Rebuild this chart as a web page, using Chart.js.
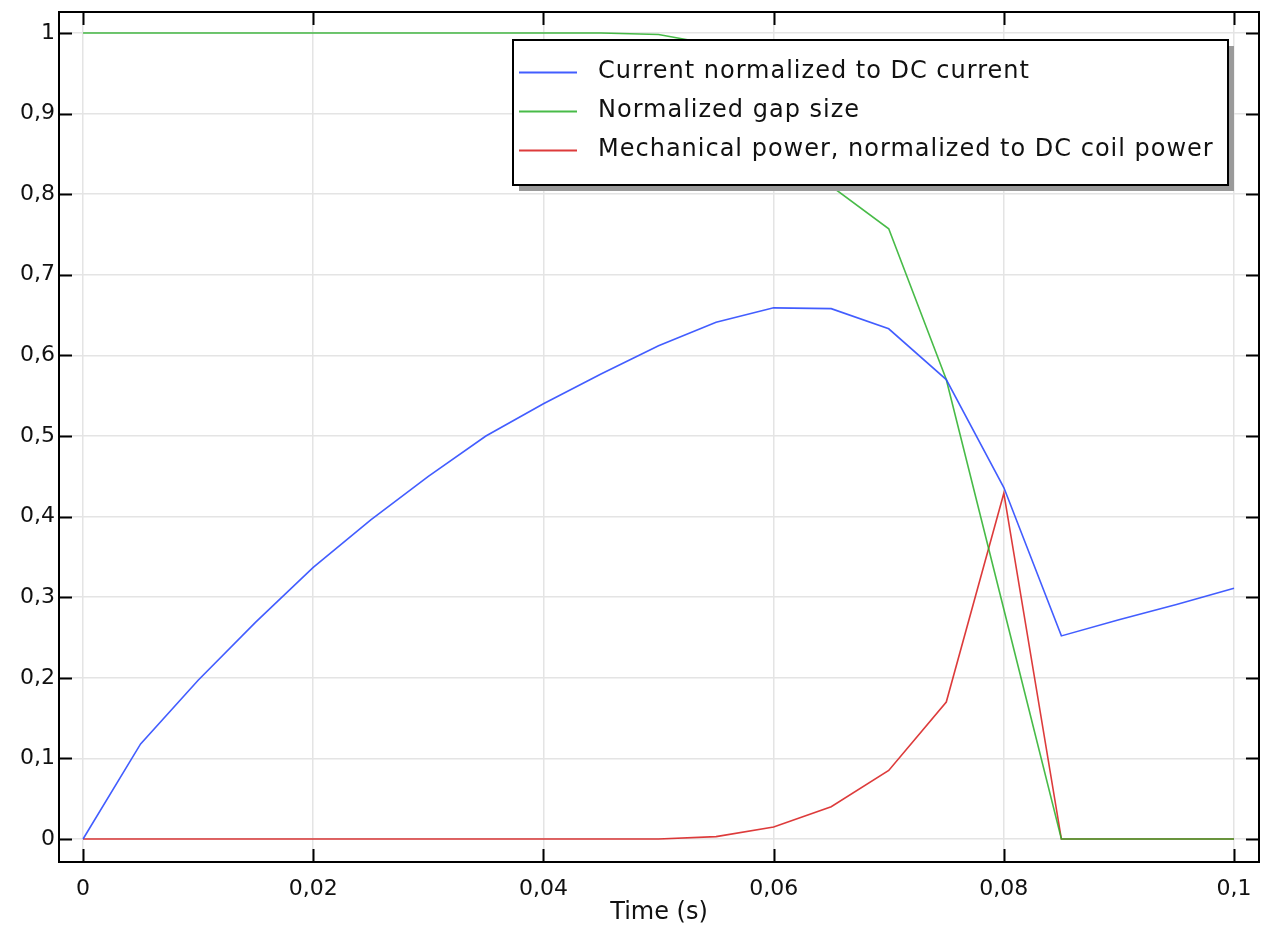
<!DOCTYPE html>
<html>
<head>
<meta charset="utf-8">
<title>Normalized current, gap size and mechanical power</title>
<script src="https://cdn.jsdelivr.net/npm/chart.js@4.4.1/dist/chart.umd.min.js"></script>
<style>
  html, body { margin: 0; padding: 0; background: #ffffff; }
  #wrap { width: 1275px; height: 932px; }
</style>
</head>
<body>
<div id="wrap"><canvas id="chart" width="1275" height="932"></canvas></div>
<script>
// Valeurs (pas de 0,005 s)
const timeValues = [0, 0.005, 0.01, 0.015, 0.02, 0.025, 0.03, 0.035, 0.04, 0.045, 0.05,
                    0.055, 0.06, 0.065, 0.07, 0.075, 0.08, 0.085, 0.09, 0.095, 0.1];
const currentValues = [0, 0.118, 0.197, 0.269, 0.337, 0.396, 0.450, 0.500, 0.540, 0.577, 0.612,
                       0.641, 0.659, 0.658, 0.633, 0.570, 0.436, 0.252, 0.272, 0.291, 0.311];
const gapValues = [1, 1, 1, 1, 1, 1, 1, 1, 1, 1, 0.998,
                   0.985, 0.93, 0.81, 0.757, 0.57, 0.285, 0, 0, 0, 0];
const powerValues = [0, 0, 0, 0, 0, 0, 0, 0, 0, 0, 0,
                     0.003, 0.015, 0.040, 0.085, 0.170, 0.429, 0, 0, 0, 0];

const seriesLabels = ['Current normalized to DC current', 'Normalized gap size',
                      'Mechanical power, normalized to DC coil power'];
const seriesColors = ['rgba(45, 75, 255, 0.9)', 'rgba(40, 175, 40, 0.85)', 'rgba(215, 25, 25, 0.85)'];

const xTicks = [0, 0.02, 0.04, 0.06, 0.08, 0.1];
const xTickLabels = ['0', '0,02', '0,04', '0,06', '0,08', '0,1'];
const yTicks = [0, 0.1, 0.2, 0.3, 0.4, 0.5, 0.6, 0.7, 0.8, 0.9, 1];
const yTickLabels = ['0', '0,1', '0,2', '0,3', '0,4', '0,5', '0,6', '0,7', '0,8', '0,9', '1'];

const FONT = '"DejaVu Sans", Verdana, sans-serif';

function toPoints(values) {
    return timeValues.map((t, i) => ({ x: t, y: values[i] }));
}

// Cadre noir + graduations tournées vers l'intérieur
const framePlugin = {
    id: 'frame',
    afterDraw(chart) {
        const { ctx, chartArea: a, scales } = chart;
        const len = 13;
        ctx.save();
        ctx.strokeStyle = '#000';
        ctx.lineWidth = 2;
        ctx.strokeRect(a.left, a.top, a.right - a.left, a.bottom - a.top);
        ctx.beginPath();
        xTicks.forEach(v => {
            const px = Math.round(scales.x.getPixelForValue(v)) + 0.5;
            ctx.moveTo(px, a.bottom); ctx.lineTo(px, a.bottom - len);
            ctx.moveTo(px, a.top); ctx.lineTo(px, a.top + len);
        });
        yTicks.forEach(v => {
            const py = Math.round(scales.y.getPixelForValue(v)) + 0.5;
            ctx.moveTo(a.left, py); ctx.lineTo(a.left + len, py);
            ctx.moveTo(a.right, py); ctx.lineTo(a.right - len, py);
        });
        ctx.stroke();
        ctx.restore();
    }
};

// Légende encadrée avec ombre
const legendBoxPlugin = {
    id: 'legendBox',
    afterDraw(chart) {
        const { ctx } = chart;
        const box = { x: 513, y: 40, w: 715, h: 145 };
        ctx.save();
        ctx.fillStyle = '#9a9a9a';
        ctx.fillRect(box.x + 6, box.y + 6, box.w, box.h);
        ctx.fillStyle = '#fff';
        ctx.fillRect(box.x, box.y, box.w, box.h);
        ctx.strokeStyle = '#000';
        ctx.lineWidth = 2;
        ctx.strokeRect(box.x, box.y, box.w, box.h);
        ctx.font = '24px ' + FONT;
        ctx.letterSpacing = '1px';
        ctx.textBaseline = 'middle';
        ctx.fillStyle = '#111';
        chart.data.datasets.forEach((ds, i) => {
            const y = 72 + i * 39;
            ctx.strokeStyle = ds.borderColor;
            ctx.lineWidth = 2;
            ctx.beginPath();
            ctx.moveTo(519, y + 0.5);
            ctx.lineTo(577, y + 0.5);
            ctx.stroke();
            ctx.fillText(ds.label, 598, y);
        });
        ctx.restore();
    }
};

const ctx = document.getElementById('chart').getContext('2d');
const chart = new Chart(ctx, {
    type: 'line',
    data: {
        datasets: [currentValues, gapValues, powerValues].map((vals, i) => ({
            label: seriesLabels[i],
            data: toPoints(vals),
            borderColor: seriesColors[i],
            borderWidth: 1.6,
            pointRadius: 0,
            tension: 0,
            fill: false
        }))
    },
    options: {
        responsive: false,
        animation: false,
        layout: { padding: { top: 12, right: 16, left: 0, bottom: 0 } },
        plugins: {
            legend: { display: false },
            tooltip: { enabled: false }
        },
        scales: {
            x: {
                type: 'linear',
                min: -0.00209,
                max: 0.10217,
                afterBuildTicks: s => { s.ticks = xTicks.map(v => ({ value: v })); },
                afterFit: s => { s.height = 70; s.paddingLeft = 0; s.paddingRight = 0; },
                grid: { color: 'rgb(228,228,228)', lineWidth: 1.5, drawTicks: false },
                border: { display: false },
                ticks: {
                    padding: 14,
                    color: '#111',
                    font: { family: FONT, size: 22 },
                    maxRotation: 0,
                    callback: (v, i) => xTickLabels[i]
                },
                title: {
                    display: true,
                    text: 'Time (s)',
                    color: '#111',
                    font: { family: FONT, size: 24 },
                    padding: { top: 0, bottom: 5 }
                }
            },
            y: {
                type: 'linear',
                min: -0.0285,
                max: 1.026,
                afterBuildTicks: s => { s.ticks = yTicks.map(v => ({ value: v })); },
                afterFit: s => { s.width = 59; s.paddingTop = 0; s.paddingBottom = 0; },
                grid: { color: 'rgb(228,228,228)', lineWidth: 1.5, drawTicks: false },
                border: { display: false },
                ticks: {
                    padding: 4,
                    color: '#111',
                    font: { family: FONT, size: 22 },
                    callback: (v, i) => yTickLabels[i]
                }
            }
        }
    },
    plugins: [framePlugin, legendBoxPlugin]
});
</script>
</body>
</html>
